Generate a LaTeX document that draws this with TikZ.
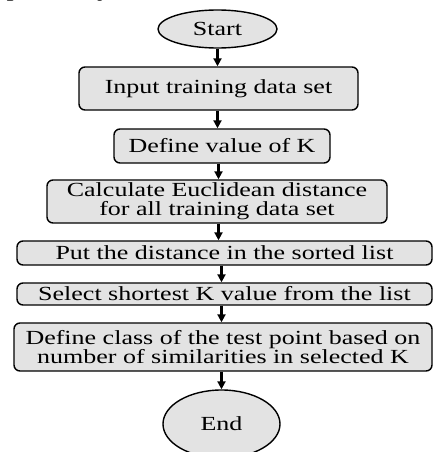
\documentclass[tikz,border=0pt]{standalone}
\usepackage{fontspec}
\setmainfont{Liberation Serif}[FakeStretch=1.3]
\usetikzlibrary{arrows.meta,shapes.geometric}

\begin{document}
\begin{tikzpicture}[x=1pt,y=1pt,>={Triangle[length=8pt,width=8pt]},
 font=\fontsize{20}{20}\selectfont,
 box/.style={draw,rounded corners=6pt,fill=gray!22,line width=1.4pt,inner sep=0pt,align=center},
 term/.style={draw,ellipse,fill=gray!22,line width=1.4pt,inner sep=0pt},
 arr/.style={->,line width=2.4pt}]
\useasboundingbox (0,0) rectangle (432,-452);
% cut-off line of the text above the figure
\node[anchor=base west,inner sep=0pt,font=\fontsize{22}{22}\selectfont] (txt) at (-27,3) {respectively.};
\node[term,minimum width=119pt,minimum height=38pt] (st) at (217.5,-29) {Start};
\node[box,minimum width=279pt,minimum height=43pt] (inp) at (218.5,-88.5) {Input training data set};
\node[box,minimum width=216pt,minimum height=34pt] (defk) at (222,-146) {Define value of K};
\node[box,minimum width=340pt,minimum height=43pt] (calc) at (217,-201.5) {Calculate Euclidean distance\\[-1pt]for all training data set};
\node[box,minimum width=415pt,minimum height=24pt] (put) at (224.5,-253) {Put the distance in the sorted list};
\node[box,minimum width=415pt,minimum height=22pt] (sel) at (224.5,-294) {Select shortest K value from the list};
\node[box,minimum width=418pt,minimum height=48pt] (cls) at (223,-347) {Define class of the test point based on\\[-1pt]number of similarities in selected K};
\node[term,minimum width=117pt,minimum height=68pt] (en) at (221.5,-424) {End};
\draw[arr] (st) -- (st |- inp.north);
\draw[arr] (inp.south -| st) -- (st |- defk.north);
\draw[arr] (defk.south -| inp) -- (inp |- calc.north);
\draw[arr] (calc.south -| inp) -- (inp |- put.north);
\draw[arr] (put.south -| en) -- (en |- sel.north);
\draw[arr] (sel.south -| en) -- (en |- cls.north);
\draw[arr] (cls.south -| en) -- (en.north);
\end{tikzpicture}
\end{document}
